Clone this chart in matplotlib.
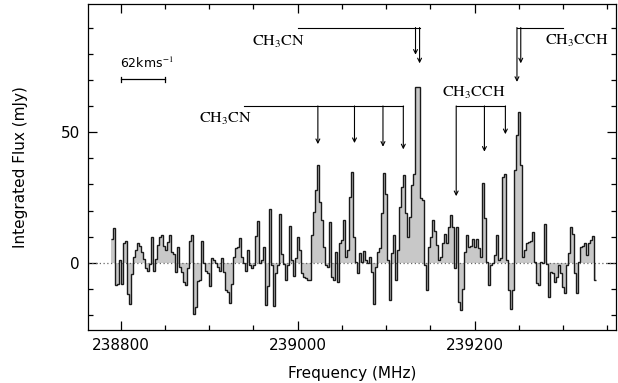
import numpy as np
import matplotlib
matplotlib.use('Agg')
import matplotlib.pyplot as plt

plt.rcParams['mathtext.fontset'] = 'stix'
plt.rcParams['font.family'] = ['DejaVu Sans']

# ---- spectrum (integrated flux per channel, mJy) ----
f_start = 238789.0      # MHz, left edge of first channel
chan_width = 2.265      # MHz
flux = [
    9.2, 13.3, -8.4, -8, 1, -8, 7.7, 8.3, -11.9, -15.7,
    -4.2, 2.2, 5, 7.7, 6.6, 4, 1.5, -1.9, -3.2, -0.5,
    10, -3.2, 1.5, 7, 9.8, 10.5, 6.6, 4.8, 8, 10.5,
    4, 3.5, -3.6, 6, -1.5, -3.6, -7.4, -8.3, -2, 8.5,
    10.5, -19.5, -17, -6.8, -6.6, 8.3, 0, -3, -4, -9,
    1.7, 1, 0, -1.5, -3, 1.7, -3.5, -10.5, -11, -15.5,
    -8, 2.3, 5.5, 6, 9.3, 2.3, 0, -3, 5, -1,
    -2, -1, 10.2, 16, 0, 1, 5.9, -16.2, -8.7, 20.4,
    -1, -16.6, -4, -1, 18.5, 3.5, -0.3, -6.6, -1, 14,
    1, -5, 1.7, 10, 5, -4, -5.4, -6, -6.6, -6.6,
    10.6, 19.5, 27.8, 37.4, 23.3, 16.3, 6, -1, -1.5, 15.7,
    -5.4, -6.6, 4.2, -7.3, 7.4, 8.7, 16.3, 2.3, 4.8, 25,
    34.8, 10, 0.4, -4, 3.6, 0.4, 4.6, 1, 0, 2.3,
    -3.4, -15.6, -1.5, 4.2, 5.5, 18.9, 34.2, 26.5, 1, -14.3,
    3.6, 10.6, -6.6, 5, 21.4, 29, 33.5, 18.9, 10, 17.6,
    29.7, 34, 67.3, 67.3, 24.6, 24, -1, -10.5, 6, 10,
    16.3, 12, 6.7, 1, 2.3, 7.4, 11.2, 7.4, 13.8, 18.2,
    13.8, -2, 13.8, -15, -18, -10, 4, 10.6, 6, 6.6,
    9, 6, 9, 5.5, 2.3, 30.4, 17, 0.4, -8.5, -1,
    0, 3, 10.6, 1, 2, 33, 34, 1, -10.5, -17.5,
    -10.5, 35.5, 48.9, 57.8, 37.4, 2.3, 4.8, 7.7, 8, 8.4,
    11.9, 0.4, -7.9, -8.5, 0.4, 0, 15, -0.3, -13, -3.4,
    -4, -7.3, -5.4, -1, -4, -9.2, -11.7, -1, 3.6, 13.8,
    11.2, -4, -11.7, 0.4, 6, 6.6, 7.4, 3, 7.4, 8.6,
    10.2, -6.6,
]

# ---- line identifications ----
ch3cn_lo_freqs = [239022.9, 239064.3, 239096.5, 239119.5]
ch3cn_lo_tips = [45.4, 45.8, 44.4, 43.4]
ch3cn_lo_bar = (238939.4, 60.0)      # start freq, bar level
ch3cn_hi_freqs = [239133.3, 239137.9]
ch3cn_hi_tips = [79.6, 76.3]
ch3cn_hi_bar = (239000.0, 90.0)
ch3cch_lo_freqs = [239179.3, 239211.2, 239234.9]
ch3cch_lo_tips = [25.5, 42.5, 49.2]
ch3cch_lo_bar = (239179.3, 60.0)
ch3cch_hi_freqs = [239248.0, 239252.3]
ch3cch_hi_tips = [69.2, 76.3]
ch3cch_hi_bar = (239300.0, 90.0)     # bar extends to this freq on the right

fig = plt.figure(figsize=(6.18, 3.83), dpi=100)
ax = fig.add_axes([0.1424, 0.1384, 0.8544, 0.8512])

flux = np.array(flux)
edges = f_start + chan_width * np.arange(len(flux) + 1)

ax.stairs(flux, edges, baseline=0, fill=True, color='#c8c8c8', lw=0, zorder=1)
ax.axhline(0, color='#666666', lw=0.9, ls=(0, (1, 2)), zorder=2)
ax.stairs(flux, edges, baseline=None, color='#1a1a1a', lw=1.0, zorder=3)

arrow_kw = dict(arrowstyle='->', lw=0.8, color='black', shrinkA=0, shrinkB=0,
                mutation_scale=7)


def ladder(freqs, tips, level, x0, x1):
    ax.plot([x0, x1], [level, level], color='black', lw=0.8, zorder=4)
    for f, t in zip(freqs, tips):
        ax.annotate('', xy=(f, t), xytext=(f, level), arrowprops=arrow_kw,
                    zorder=4)


ladder(ch3cn_lo_freqs, ch3cn_lo_tips, ch3cn_lo_bar[1], ch3cn_lo_bar[0],
       max(ch3cn_lo_freqs))
ladder(ch3cn_hi_freqs, ch3cn_hi_tips, ch3cn_hi_bar[1], ch3cn_hi_bar[0],
       max(ch3cn_hi_freqs))
ladder(ch3cch_lo_freqs, ch3cch_lo_tips, ch3cch_lo_bar[1], ch3cch_lo_bar[0],
       max(ch3cch_lo_freqs))
ladder(ch3cch_hi_freqs, ch3cch_hi_tips, ch3cch_hi_bar[1], min(ch3cch_hi_freqs),
       ch3cch_hi_bar[0])

lab_kw = dict(family='STIXGeneral', fontsize=11.5, va='baseline', zorder=5)
ax.text(238948.4, 53.7, r'CH$_3$CN', ha='right', **lab_kw)
ax.text(239008.2, 83.0, r'CH$_3$CN', ha='right', **lab_kw)
ax.text(239199.0, 63.3, r'CH$_3$CCH', ha='center', **lab_kw)
ax.text(239279.4, 83.3, r'CH$_3$CCH', ha='left', **lab_kw)

# velocity scale bar
ax.plot([238800, 238850], [70.2, 70.2], color='black', lw=0.9)
ax.plot([238800, 238800], [69.3, 71.1], color='black', lw=0.9)
ax.plot([238850, 238850], [69.3, 71.1], color='black', lw=0.9)
ax.text(238799, 74.4, r'62kms$^{-1}$', fontsize=9, ha='left', va='baseline')

ax.set_xlim(238763, 239360)
ax.set_ylim(-25.7, 99)
ax.set_xticks([238800, 239000, 239200])
ax.set_xticks(np.arange(238800, 239360, 50), minor=True)
ax.set_yticks([0, 50])
ax.set_yticks(np.arange(-20, 100, 10), minor=True)
ax.tick_params(which='both', direction='in', top=True, right=True,
               width=0.9, labelsize=11)
ax.tick_params(which='major', length=6.5, pad=6)
ax.tick_params(which='minor', length=3.3)
ax.tick_params(axis='y', which='major', pad=6)
for s in ax.spines.values():
    s.set_linewidth(0.9)

ax.set_xlabel('Frequency (MHz)', fontsize=11, labelpad=9)
ax.set_ylabel('Integrated Flux (mJy)', fontsize=11, labelpad=23)

fig.savefig('out.png', dpi=100)
